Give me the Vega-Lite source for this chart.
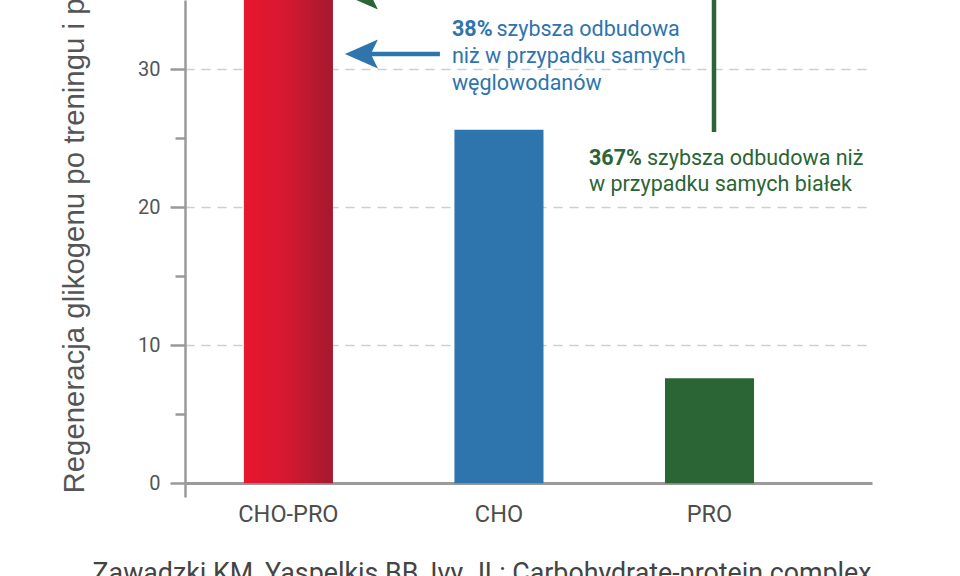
{
  "$schema": "https://vega.github.io/schema/vega-lite/v6.json",
  "width": 687,
  "height": 497,
  "autosize": {"type": "none"},
  "padding": {"left": 185, "top": 0, "right": 88, "bottom": 79},
  "background": "white",
  "config": {"view": {"stroke": null}, "font": "Roboto"},
  "data": {
    "values": [
      {"grupa": "CHO-PRO", "glikogen": 35.3},
      {"grupa": "CHO", "glikogen": 25.6},
      {"grupa": "PRO", "glikogen": 7.6}
    ]
  },
  "resolve": {"axis": {"y": "independent"}},
  "layer": [
    {
      "transform": [{"filter": "datum.grupa !== 'CHO-PRO'"}],
      "mark": {"type": "bar"},
      "encoding": {
        "x": {
          "field": "grupa", "type": "nominal",
          "scale": {"domain": ["CHO-PRO", "CHO", "PRO"], "paddingInner": 0.577, "paddingOuter": 0.42, "align": 0.333, "round": false},
          "axis": {
            "title": ["Zawadzki KM, Yaspelkis BB, Ivy JL: Carbohydrate-protein complex", "increases the rate of muscle glycogen storage after exercise."],
            "titleFont": "Roboto", "titleFontSize": 26.8, "titleFontWeight": "normal", "titleColor": "#444444",
            "titleAlign": "left", "titleBaseline": "alphabetic", "titleX": -93, "titleY": 84, "titleLineHeight": 32,
            "labelFont": "Roboto", "labelFontSize": 23.5, "labelColor": "#4d4d4d", "labelAngle": 0,
            "labelBaseline": "alphabetic", "labelPadding": 24,
            "ticks": false, "tickSize": 0, "domain": false
          }
        },
        "y": {
          "field": "glikogen", "type": "quantitative",
          "scale": {"domain": [-1, 35], "nice": false, "zero": false},
          "axis": {
            "values": [0, 10, 20, 30],
            "title": "Regeneracja glikogenu po treningu i posiłku",
            "titleFont": "Liberation Sans", "titleFontSize": 29.4, "titleFontWeight": "normal", "titleColor": "#555555",
            "titleAngle": 270, "titleAlign": "left", "titleBaseline": "alphabetic", "titleX": -102, "titleY": 493,
            "labelFont": "Roboto", "labelFontSize": 20, "labelColor": "#555555", "labelPadding": 10,
            "tickSize": 15, "tickWidth": 2.5, "tickColor": "#9a9a9a",
            "domainColor": "#9a9a9a", "domainWidth": 2.5,
            "grid": true,
            "gridColor": {"condition": {"test": "datum.value === 0", "value": "#9a9a9a"}, "value": "#cfcfcf"},
            "gridDash": {"condition": {"test": "datum.value === 0", "value": []}, "value": [9, 7]},
            "gridWidth": {"condition": {"test": "datum.value === 0", "value": 3}, "value": 1.6}
          }
        },
        "y2": {"datum": 0},
        "color": {
          "field": "grupa", "type": "nominal",
          "scale": {"domain": ["CHO", "PRO"], "range": ["#2e74ad", "#2b6535"]},
          "legend": null
        }
      }
    },
    {
      "transform": [{"filter": "datum.grupa === 'CHO-PRO'"}],
      "mark": {
        "type": "bar",
        "color": {
          "gradient": "linear", "x1": 0, "y1": 0, "x2": 1, "y2": 0,
          "stops": [
            {"offset": 0, "color": "#e8162f"},
            {"offset": 0.45, "color": "#d71831"},
            {"offset": 1, "color": "#a31a2e"}
          ]
        }
      },
      "encoding": {
        "x": {"field": "grupa", "type": "nominal"},
        "y": {
          "field": "glikogen", "type": "quantitative",
          "axis": {
            "values": [5, 15, 25], "orient": "left", "labels": false, "domain": false, "grid": false, "title": null,
            "tickSize": 10, "tickWidth": 2.5, "tickColor": "#9a9a9a"
          }
        },
        "y2": {"datum": 0}
      }
    },
    {
      "data": {"values": [{"opis": "strzałka CHO"}]},
      "mark": {"type": "point", "shape": "M-1,0L-0.305,-0.305L-0.432,-0.047L1,-0.047L1,0.047L-0.432,0.047L-0.305,0.305Z", "size": 9025, "filled": true, "opacity": 1, "color": "#2e74ad", "xOffset": 104},
      "encoding": {
        "x": {"datum": "CHO-PRO", "type": "nominal"},
        "y": {"datum": 31.09, "type": "quantitative", "axis": null}
      }
    },
    {
      "data": {"values": [{"opis": "strzałka PRO"}]},
      "mark": {"type": "point", "shape": "M-1,0L-0.305,-0.305L-0.432,-0.047L1,-0.047L1,0.047L-0.432,0.047L-0.305,0.305Z", "size": 9025, "filled": true, "opacity": 1, "color": "#2b6535", "xOffset": 104},
      "encoding": {
        "x": {"datum": "CHO-PRO", "type": "nominal"},
        "y": {"datum": 35.36, "type": "quantitative", "axis": null}
      }
    },
    {
      "data": {"values": [{"opis": "linia PRO"}]},
      "mark": {"type": "rule", "color": "#2b6535", "strokeWidth": 4.5, "xOffset": 4.5},
      "encoding": {
        "x": {"datum": "PRO", "type": "nominal"},
        "y": {"datum": 25.44, "type": "quantitative", "axis": null},
        "y2": {"datum": 36}
      }
    },
    {
      "data": {"values": [{"tekst": "38%"}]},
      "mark": {"type": "text", "font": "Roboto", "fontSize": 21.5, "fontWeight": "bold", "color": "#2e74ad", "align": "left", "baseline": "alphabetic", "dx": -47},
      "encoding": {
        "x": {"datum": "CHO", "type": "nominal"},
        "y": {"datum": 32.39, "type": "quantitative", "axis": null},
        "text": {"field": "tekst"}
      }
    },
    {
      "data": {"values": [{"tekst": "szybsza odbudowa"}]},
      "mark": {"type": "text", "font": "Roboto", "fontSize": 21.5, "color": "#2e74ad", "align": "left", "baseline": "alphabetic", "dx": -2.5},
      "encoding": {
        "x": {"datum": "CHO", "type": "nominal"},
        "y": {"datum": 32.39, "type": "quantitative", "axis": null},
        "text": {"field": "tekst"}
      }
    },
    {
      "data": {"values": [{"tekst": "niż w przypadku samych\nwęglowodanów"}]},
      "mark": {"type": "text", "font": "Roboto", "fontSize": 21.5, "color": "#2e74ad", "align": "left", "baseline": "alphabetic", "dx": -47, "lineBreak": "\n", "lineHeight": 26.7},
      "encoding": {
        "x": {"datum": "CHO", "type": "nominal"},
        "y": {"datum": 30.415, "type": "quantitative", "axis": null},
        "text": {"field": "tekst"}
      }
    },
    {
      "data": {"values": [{"tekst": "367%"}]},
      "mark": {"type": "text", "font": "Roboto", "fontSize": 21.5, "fontWeight": "bold", "color": "#2b6535", "align": "left", "baseline": "alphabetic", "dx": -120.5},
      "encoding": {
        "x": {"datum": "PRO", "type": "nominal"},
        "y": {"datum": 23.05, "type": "quantitative", "axis": null},
        "text": {"field": "tekst"}
      }
    },
    {
      "data": {"values": [{"tekst": "szybsza odbudowa niż"}]},
      "mark": {"type": "text", "font": "Roboto", "fontSize": 21.5, "color": "#2b6535", "align": "left", "baseline": "alphabetic", "dx": -62.5},
      "encoding": {
        "x": {"datum": "PRO", "type": "nominal"},
        "y": {"datum": 23.05, "type": "quantitative", "axis": null},
        "text": {"field": "tekst"}
      }
    },
    {
      "data": {"values": [{"tekst": "w przypadku samych białek"}]},
      "mark": {"type": "text", "font": "Roboto", "fontSize": 21.5, "color": "#2b6535", "align": "left", "baseline": "alphabetic", "dx": -120.5},
      "encoding": {
        "x": {"datum": "PRO", "type": "nominal"},
        "y": {"datum": 21.165, "type": "quantitative", "axis": null},
        "text": {"field": "tekst"}
      }
    }
  ]
}
